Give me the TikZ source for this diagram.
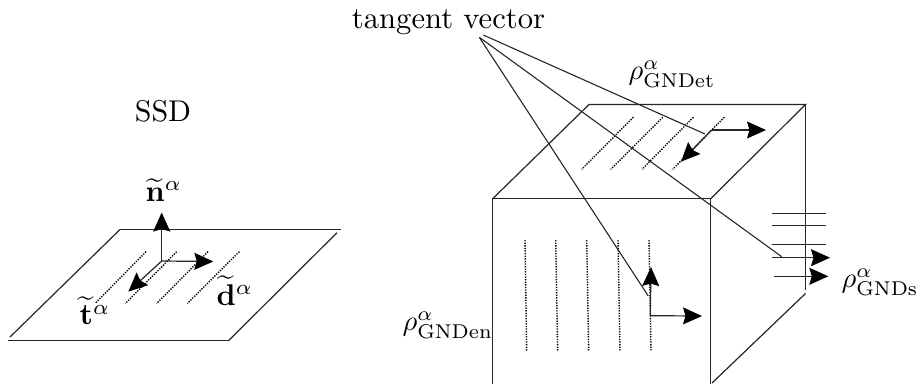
\documentclass[tikz,border=0pt]{standalone}
\usepackage{amsmath}
\usetikzlibrary{arrows.meta}
\tikzset{
  edge/.style={draw=black!85,line width=1.2pt},
  leader/.style={draw=black!85,line width=1.1pt},
  dotline/.style={draw=black,line width=1.4pt,dash pattern=on 1.3pt off 1.3pt},
  vec/.style={draw=black!85,line width=1.2pt,-{Stealth[length=19pt,width=17pt,inset=2.5pt,color=black]}},
  lab/.style={inner sep=0pt,scale=3,text=black},
  rholab/.style={inner sep=0pt,scale=2.85,text=black}
}
\begin{document}
\begin{tikzpicture}[x=1pt,y=-1pt]
\useasboundingbox (0,0) rectangle (917,384);
% left plane
\coordinate (pa) at (120,229.5);
\coordinate (pb) at (340.7,229.5);
\coordinate (pc) at (8,340.5);
\coordinate (pd) at (228.7,340.5);
\coordinate (pe) at (10,337);
\coordinate (pf) at (337,232.7);
\draw[edge] (pa) -- (pb);
\draw[edge] (pc) -- (pd);
\draw[edge] (pa) -- (pe);
\draw[edge] (pf) -- (pd);
\foreach \xa/\xb in {146/95,176.7/125.3,208/156.7,239.3/187.3}
  \draw[dotline] (\xa,251.7) -- (\xb,303.5);
\coordinate (po) at (161.7,261);
\coordinate (pn) at (161.7,212.5);
\coordinate (pdv) at (213.3,261.5);
\coordinate (ptv) at (128.3,291.7);
\draw[vec] (po) -- (pn);
\draw[vec] (po) -- (pdv);
\draw[vec] (po) -- (ptv);
\node[lab] (ssd) at (163,111) {SSD};
\node[lab,anchor=west] (nl) at (145,190) {$\widetilde{\mathbf{n}}^{\alpha}$};
\node[lab,anchor=west] (dl) at (216,291) {$\widetilde{\mathbf{d}}^{\alpha}$};
\node[lab,anchor=west] (tl) at (79,311) {$\widetilde{\mathbf{t}}^{\alpha}$};
% cube
\coordinate (ca) at (589,104.5);
\coordinate (cb) at (805.5,104.5);
\coordinate (cc) at (492.7,198.7);
\coordinate (cd) at (710.7,198.7);
\coordinate (ce) at (492.7,384);
\coordinate (cf) at (710.7,384);
\coordinate (cg) at (805.5,290);
\coordinate (ch) at (805.5,293.5);
\coordinate (ci) at (712,383);
\draw[edge] (ca) -- (cb) -- (cd);
\draw[edge] (ca) -- (cc);
\draw[edge] (ce) -- (cc) -- (cd) -- (cf);
\draw[edge] (cb) -- (cg);
\draw[edge] (ch) -- (ci);
% top face
\foreach \xa/\xb in {633.3/581.7,662.7/610.7,693.3/642,724.3/672.7}
  \draw[dotline] (\xa,117.3) -- (\xb,169.3);
\coordinate (to) at (711.7,130);
\coordinate (tr) at (766,130);
\coordinate (tl2) at (681,161.7);
\draw[vec] (to) -- (tr);
\draw[vec] (to) -- (tl2);
% front face
\foreach \xa/\xb in {525/526.7,555.7/557.7,586.7/588.7,618/620,649/651}
  \draw[dotline] (\xa,240) -- (\xb,351.7);
\coordinate (fo) at (650.3,315.7);
\coordinate (fu) at (651,267);
\coordinate (fr) at (702,316);
\draw[vec] (fo) -- (fu);
\draw[vec] (fo) -- (fr);
% right face
\foreach \yy in {213.5,225.5,244.5}
  \draw[edge,line width=1.1pt] (772,\yy) -- (825.7,\yy);
\coordinate (ra) at (771.7,257.7);
\coordinate (rb) at (830,257.7);
\coordinate (rc) at (774,276.3);
\coordinate (rd) at (828.3,276.3);
\draw[vec] (ra) -- (rb);
\draw[vec] (rc) -- (rd);
% labels
\node[lab,scale=1.02] (tv) at (448.5,22) {tangent vector};
\coordinate (apa) at (479.3,37.3);
\coordinate (apb) at (483.3,35);
\coordinate (la) at (648.3,296);
\coordinate (lb) at (781.7,256.7);
\coordinate (lc) at (705,134);
\draw[leader] (apa) -- (la);
\draw[leader] (apa) -- (lb);
\draw[leader] (apb) -- (lc);
\node[rholab,anchor=west] (r1) at (628,74) {$\rho^{\alpha}_{\mathrm{GNDet}}$};
\node[rholab,anchor=west] (r2) at (841,282) {$\rho^{\alpha}_{\mathrm{GNDs}}$};
\node[rholab,anchor=west] (r3) at (402,325) {$\rho^{\alpha}_{\mathrm{GNDen}}$};
\end{tikzpicture}
\end{document}
